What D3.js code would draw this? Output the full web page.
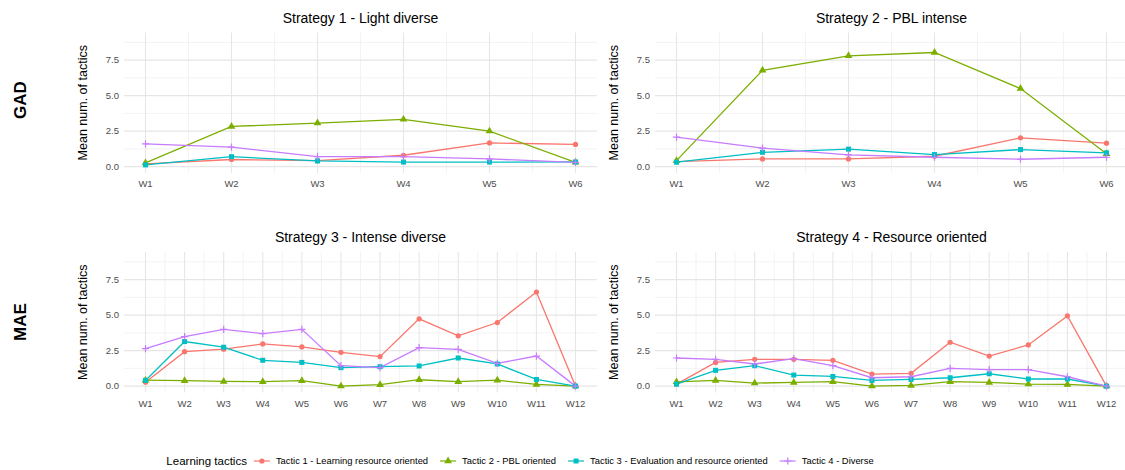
<!DOCTYPE html>
<html>
<head>
<meta charset="utf-8">
<script src="https://cdn.jsdelivr.net/npm/d3@7"></script>
<style>
  body { margin: 0; background: #fff; }
  svg { font-family: "Liberation Sans", Arial, sans-serif; }
</style>
</head>
<body>
<svg width="1125" height="470"></svg>
<script>
const weeksGAD = ["W1", "W2", "W3", "W4", "W5", "W6"];
const weeksMAE = ["W1", "W2", "W3", "W4", "W5", "W6", "W7", "W8", "W9", "W10", "W11", "W12"];
const tactics = ["Tactic 1 - Learning resource oriented", "Tactic 2 - PBL oriented",
                 "Tactic 3 - Evaluation and resource oriented", "Tactic 4 - Diverse"];
const colors = ["#F8766D", "#7CAE00", "#00BFC4", "#C77CFF"];
const shapes = ["circle", "triangle", "square", "plus"];

const titles = ["Strategy 1 - Light diverse", "Strategy 2 - PBL intense",
                "Strategy 3 - Intense diverse", "Strategy 4 - Resource oriented"];
const rowLabels = ["GAD", "MAE"];
const yTicks = [0, 2.5, 5, 7.5];

// values per tactic (T1..T4)
const strategy1 = [
  [0.2, 0.5, 0.42, 0.8, 1.67, 1.56],
  [0.26, 2.83, 3.07, 3.33, 2.5, 0.3],
  [0.12, 0.7, 0.4, 0.32, 0.32, 0.33],
  [1.6, 1.37, 0.7, 0.7, 0.54, 0.3]
];
const strategy2 = [
  [0.35, 0.54, 0.54, 0.73, 2.03, 1.65],
  [0.42, 6.79, 7.81, 8.04, 5.5, 0.9],
  [0.31, 1.01, 1.23, 0.85, 1.2, 0.97],
  [2.08, 1.3, 0.83, 0.66, 0.52, 0.66]
];
const strategy3 = [
  [0.28, 2.43, 2.6, 2.97, 2.76, 2.38, 2.08, 4.74, 3.54, 4.48, 6.63, 0],
  [0.42, 0.38, 0.33, 0.31, 0.38, 0, 0.1, 0.45, 0.31, 0.42, 0.12, 0],
  [0.4, 3.14, 2.74, 1.82, 1.67, 1.3, 1.37, 1.42, 1.98, 1.56, 0.47, 0],
  [2.64, 3.49, 4.0, 3.7, 4.0, 1.44, 1.3, 2.71, 2.59, 1.6, 2.12, 0]
];
const strategy4 = [
  [0.14, 1.67, 1.89, 1.89, 1.82, 0.85, 0.9, 3.09, 2.12, 2.9, 4.95, 0],
  [0.3, 0.4, 0.21, 0.26, 0.31, 0, 0.05, 0.31, 0.26, 0.14, 0.12, 0],
  [0.14, 1.11, 1.44, 0.78, 0.68, 0.4, 0.47, 0.59, 0.87, 0.5, 0.5, 0],
  [1.98, 1.89, 1.56, 1.93, 1.44, 0.59, 0.66, 1.25, 1.16, 1.16, 0.66, 0]
];

const svg = d3.select("svg");

const panels = [
  { data: strategy1, weeks: weeksGAD, left: 124, top: 32.5, title: titles[0] },
  { data: strategy2, weeks: weeksGAD, left: 655, top: 32.5, title: titles[1] },
  { data: strategy3, weeks: weeksMAE, left: 124, top: 252, title: titles[2] },
  { data: strategy4, weeks: weeksMAE, left: 655, top: 252, title: titles[3] }
];
const pw = 473, ph = 140.5;

function marker(g, shape, color) {
  if (shape === "circle") {
    g.append("circle").attr("r", 2.6).attr("fill", color);
  } else if (shape === "triangle") {
    g.append("path").attr("d", d3.symbol(d3.symbolTriangle, 26)()).attr("fill", color);
  } else if (shape === "square") {
    g.append("rect").attr("x", -2.5).attr("y", -2.5).attr("width", 5).attr("height", 5).attr("fill", color);
  } else {
    g.append("path").attr("d", "M-3.6,0H3.6M0,-3.6V3.6").attr("stroke", color).attr("stroke-width", 1.2);
  }
}

panels.forEach(p => {
  const n = p.weeks.length;
  const pad = 0.05 * (n - 1);
  const x = d3.scaleLinear().domain([1 - pad, n + pad]).range([0, pw]);
  const y = d3.scaleLinear().domain([-0.45, 9.45]).range([ph, 0]);

  const g = svg.append("g").attr("transform", `translate(${p.left},${p.top})`);

  // grid
  const minorY = d3.range(1.25, 9.45, 2.5);
  const minorX = d3.range(1.5, n, 1);
  g.selectAll(".gminy").data(minorY).enter().append("line")
    .attr("x1", 0).attr("x2", pw).attr("y1", d => y(d)).attr("y2", d => y(d))
    .attr("stroke", "#ebebeb").attr("stroke-width", 0.6);
  g.selectAll(".gminx").data(minorX).enter().append("line")
    .attr("y1", 0).attr("y2", ph).attr("x1", d => x(d)).attr("x2", d => x(d))
    .attr("stroke", "#ebebeb").attr("stroke-width", 0.6);
  g.selectAll(".gmajy").data(yTicks).enter().append("line")
    .attr("x1", 0).attr("x2", pw).attr("y1", d => y(d)).attr("y2", d => y(d))
    .attr("stroke", "#e6e6e6").attr("stroke-width", 1.1);
  g.selectAll(".gmajx").data(p.weeks).enter().append("line")
    .attr("y1", 0).attr("y2", ph).attr("x1", (d, i) => x(i + 1)).attr("x2", (d, i) => x(i + 1))
    .attr("stroke", "#e6e6e6").attr("stroke-width", 1.1);

  // axis labels
  g.selectAll(".ytl").data(yTicks).enter().append("text")
    .attr("x", -5).attr("y", d => y(d)).attr("dy", "0.35em")
    .attr("text-anchor", "end").attr("font-size", 9.5).attr("fill", "#4d4d4d")
    .text(d => d3.format(".1f")(d));
  g.selectAll(".xtl").data(p.weeks).enter().append("text")
    .attr("x", (d, i) => x(i + 1)).attr("y", ph + 14)
    .attr("text-anchor", "middle").attr("font-size", 9.5).attr("fill", "#4d4d4d")
    .text(d => d);

  g.append("text")
    .attr("transform", `translate(-41,${ph / 2}) rotate(-90)`)
    .attr("text-anchor", "middle").attr("dy", "0.35em")
    .attr("font-size", 12.5).attr("fill", "#000")
    .text("Mean num. of tactics");

  g.append("text")
    .attr("x", pw / 2).attr("y", -10)
    .attr("text-anchor", "middle").attr("font-size", 14).attr("fill", "#000")
    .text(p.title);

  const line = d3.line().x((d, i) => x(i + 1)).y(d => y(d));
  p.data.forEach((vals, t) => {
    g.append("path").datum(vals)
      .attr("d", line).attr("fill", "none")
      .attr("stroke", colors[t]).attr("stroke-width", 1.3);
  });
  p.data.forEach((vals, t) => {
    vals.forEach((v, i) => {
      const m = g.append("g").attr("transform", `translate(${x(i + 1)},${y(v)})`);
      marker(m, shapes[t], colors[t]);
    });
  });
});

// row labels
[[100, rowLabels[0]], [322, rowLabels[1]]].forEach(([cy, lab]) => {
  svg.append("text")
    .attr("transform", `translate(20,${cy}) rotate(-90)`)
    .attr("text-anchor", "middle").attr("dy", "0.35em")
    .attr("font-size", 17).attr("font-weight", "bold").attr("fill", "#000")
    .text(lab);
});

// legend
const leg = svg.append("g");
const ly = 461;
let cx = 0;
const lt = leg.append("text").attr("x", cx).attr("y", ly).attr("dy", "0.35em")
  .attr("font-size", 11.5).attr("fill", "#000").text("Learning tactics");
cx += lt.node().getComputedTextLength() + 7;
tactics.forEach((name, t) => {
  leg.append("line").attr("x1", cx).attr("x2", cx + 16).attr("y1", ly).attr("y2", ly)
    .attr("stroke", colors[t]).attr("stroke-width", 1.2);
  marker(leg.append("g").attr("transform", `translate(${cx + 8},${ly})`), shapes[t], colors[t]);
  cx += 22;
  const tx = leg.append("text").attr("x", cx).attr("y", ly).attr("dy", "0.35em")
    .attr("font-size", 9.4).attr("fill", "#000").text(name);
  cx += tx.node().getComputedTextLength() + 12;
});
const total = cx - 12;
leg.attr("transform", `translate(${520 - total / 2},0)`);
</script>
</body>
</html>
